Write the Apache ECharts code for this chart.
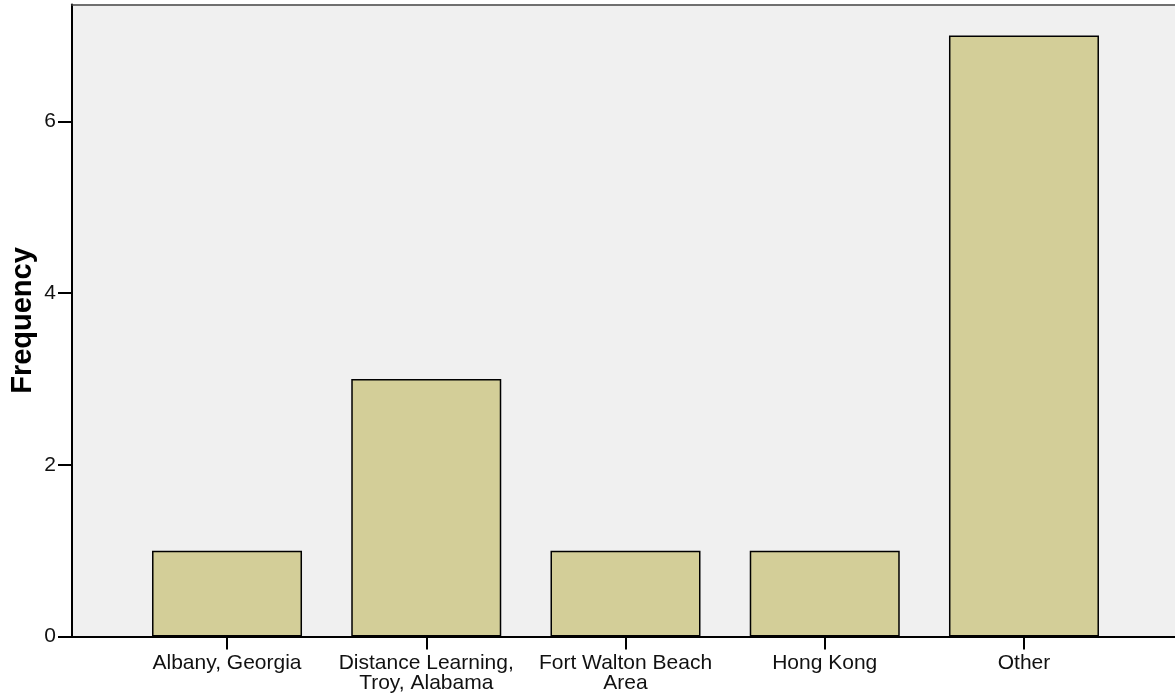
<!DOCTYPE html>
<html>
<head>
<meta charset="utf-8">
<script src="https://cdn.jsdelivr.net/npm/echarts@6/dist/echarts.min.js"></script>
<style>html,body{margin:0;padding:0;background:#fff;}#c{width:1175px;height:700px;}</style>
</head>
<body>
<div id="c"></div>
<script>
const categories = ['Albany, Georgia', 'Distance Learning,\nTroy, Alabama', 'Fort Walton Beach\nArea', 'Hong Kong', 'Other'];
const frequency = [1, 3, 1, 1, 7];
const yTicks = [0, 2, 4, 6];
const yMax = 7.36;

const chart = echarts.init(document.getElementById('c'));
const font = 'Liberation Sans, Arial, sans-serif';
chart.setOption({
  animation: false,
  grid: [
    { left: 72, right: -4, top: 4.5, bottom: 63.5, show: true, backgroundColor: '#f0f0f0', borderWidth: 0, containLabel: false, outerBoundsMode: 'none' },
    { left: 127.4, right: 51.4, top: 4.5, bottom: 63.5, show: false, containLabel: false, outerBoundsMode: 'none' }
  ],
  xAxis: [
    { type: 'value', gridIndex: 0, min: 0, max: 1, position: 'bottom',
      axisLine: { show: true, onZero: false, lineStyle: { color: '#000', width: 2 } },
      axisTick: { show: false }, axisLabel: { show: false }, splitLine: { show: false } },
    { type: 'value', gridIndex: 0, min: 0, max: 1, position: 'top',
      axisLine: { show: true, onZero: false, lineStyle: { color: '#444', width: 1.5 } },
      axisTick: { show: false }, axisLabel: { show: false }, splitLine: { show: false } },
    { type: 'category', gridIndex: 1, data: categories, position: 'bottom',
      axisLine: { show: false, onZero: false },
      axisTick: { show: true, alignWithLabel: true, length: 13, lineStyle: { color: '#000', width: 2 } },
      axisLabel: { interval: 0, margin: 17, color: '#111', fontFamily: font, fontSize: 21, lineHeight: 20, align: 'center' } }
  ],
  yAxis: [
    { type: 'value', gridIndex: 0, min: 0, max: yMax, interval: 2,
      name: 'Frequency', nameLocation: 'middle', nameGap: 35, nameMoveOverlap: false,
      nameTextStyle: { fontFamily: font, fontSize: 29, fontWeight: 'bold', color: '#000' },
      axisLine: { show: true, lineStyle: { color: '#000', width: 2 } },
      axisTick: { show: true, length: 14, lineStyle: { color: '#000', width: 2 } },
      axisLabel: { margin: 16, color: '#111', fontFamily: font, fontSize: 21, showMaxLabel: false,
        formatter: v => yTicks.includes(v) ? String(v) : '' },
      splitLine: { show: false } },
    { type: 'value', gridIndex: 1, min: 0, max: yMax, interval: 2, show: false, splitLine: { show: false } }
  ],
  series: [{
    type: 'bar', xAxisIndex: 2, yAxisIndex: 1, data: frequency, barWidth: 150,
    itemStyle: { color: '#d3ce98', borderColor: '#000', borderWidth: 1.5 }
  }]
});
</script>
</body>
</html>
